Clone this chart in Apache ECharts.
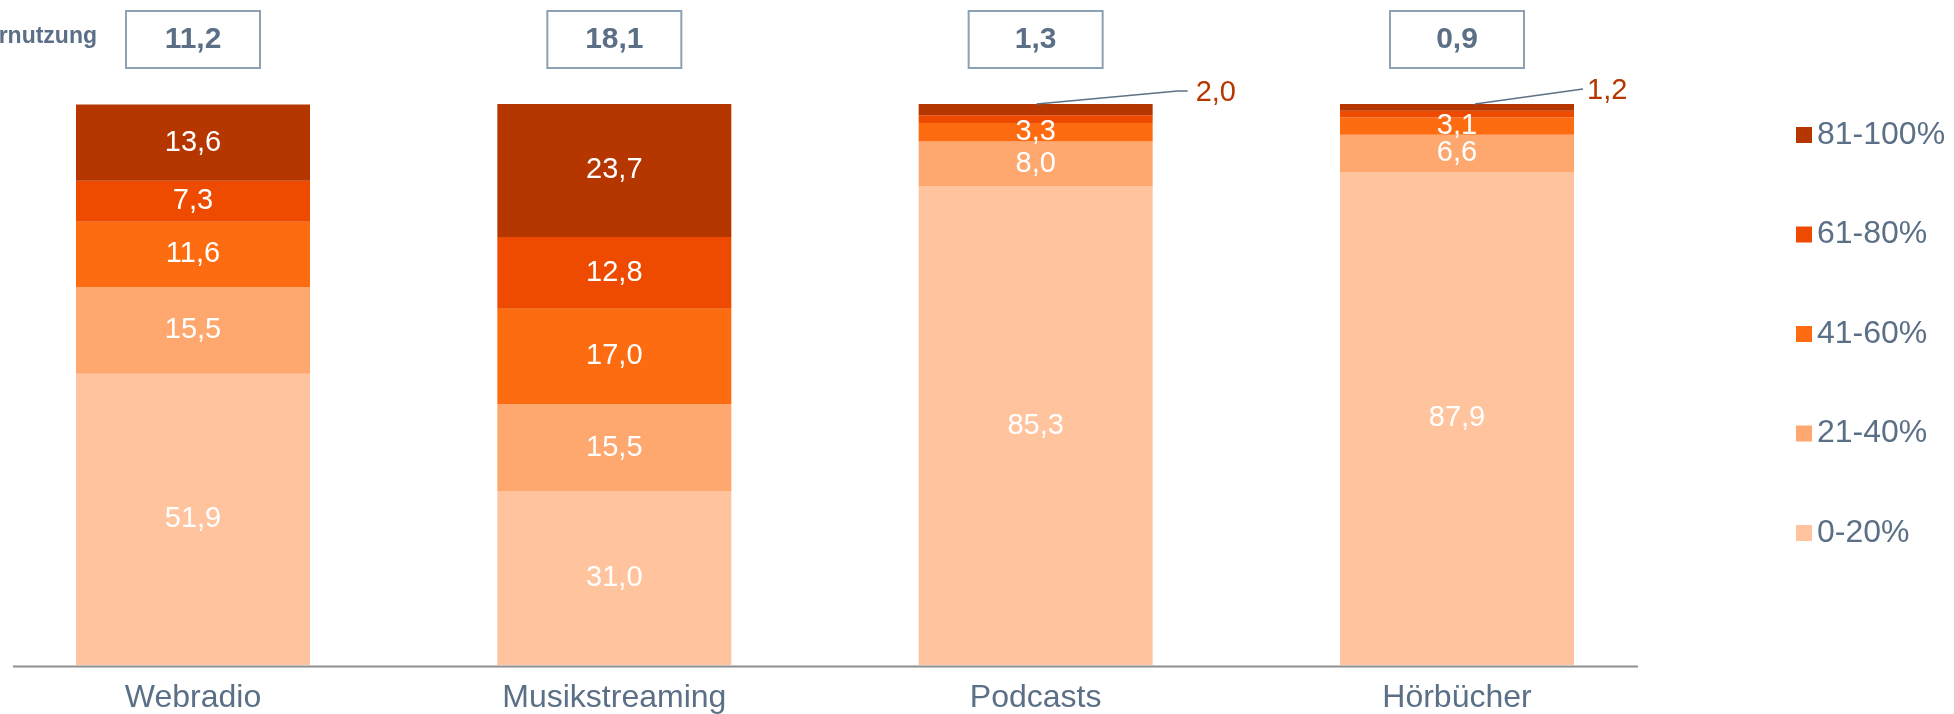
<!DOCTYPE html>
<html>
<head>
<meta charset="utf-8">
<script src="https://cdn.jsdelivr.net/npm/echarts@6/dist/echarts.min.js"></script>
<style>
html,body{margin:0;padding:0;background:#fff;}
#chart{width:1954px;height:714px;}
</style>
</head>
<body>
<div id="chart"></div>
<script>
// ---- data ----
const categories = ['Webradio', 'Musikstreaming', 'Podcasts', 'Hörbücher'];
const usage = [11.2, 18.1, 1.3, 0.9];
const usageTitle = 'Ø Hörnutzung';
const bandNames = ['0-20%', '21-40%', '41-60%', '61-80%', '81-100%'];
const band0to20 = [51.9, 31.0, 85.3, 87.9];
const band21to40 = [15.5, 15.5, 8.0, 6.6];
const band41to60 = [11.6, 17.0, 3.3, 3.1];
const band61to80 = [7.3, 12.8, 1.4, 1.2];
const band81to100 = [13.6, 23.7, 2.0, 1.2];

// ---- styles ----
const bandColors = ['#FFC49E', '#FEA870', '#FE6C12', '#EF4B00', '#B63600'];
const textColor = '#5B6F86';
const FONT = 'Liberation Sans, Arial, sans-serif';
const fmt = v => v.toFixed(1).replace('.', ',');
// leader line geometry per category (pixels relative to bar top centre)
const leaderStyle = {
  2: { start: 1, bend: 142, end: 152, label: 160, rise: 13 },
  3: { start: 18, bend: 126, end: 126, label: 130, rise: 15 }
};

const bands = [band0to20, band21to40, band41to60, band61to80, band81to100];
const totals = categories.map((c, i) => bands.reduce((s, b) => s + b[i], 0));

const barSeries = bands.map((vals, si) => ({
  name: bandNames[si],
  type: 'bar',
  stack: 'total',
  barWidth: 234,
  clip: false,
  itemStyle: { color: bandColors[si] },
  label: {
    show: true,
    position: 'inside',
    color: '#fff',
    fontSize: 29,
    fontFamily: FONT,
    formatter: p => fmt(p.value)
  },
  data: vals.map((v, i) => {
    const hide = (si >= 3 && v < 3);
    return hide ? { value: v, label: { show: false } } : v;
  }),
  z: 2
}));

const outsideData = [];
band81to100.forEach((v, i) => { if (v < 3) outsideData.push([i, totals[i], v]); });

const leaderSeries = {
  name: 'outside',
  type: 'custom',
  coordinateSystem: 'cartesian2d',
  silent: true,
  z: 5,
  data: outsideData,
  renderItem: function (params, api) {
    const idx = api.value(0);
    const top = api.coord([idx, api.value(1)]);
    const st = leaderStyle[idx] || { start: 0, bend: 130, end: 140, label: 148, rise: 14 };
    const x0 = top[0] + st.start, y0 = top[1];
    const y1 = y0 - st.rise;
    return {
      type: 'group',
      children: [
        {
          type: 'polyline',
          shape: { points: [[x0, y0], [top[0] + st.bend, y1], [top[0] + st.end, y1]] },
          style: { stroke: '#5D7185', lineWidth: 1.5, fill: null }
        },
        {
          type: 'text',
          style: {
            x: top[0] + st.label, y: y1 + 2,
            text: fmt(api.value(2)),
            fill: '#B63600',
            fontSize: 29,
            fontFamily: FONT,
            verticalAlign: 'middle',
            align: 'left'
          }
        }
      ]
    };
  }
};

const chart = echarts.init(document.getElementById('chart'), null, { renderer: 'canvas' });
chart.setOption({
  animation: false,
  backgroundColor: '#fff',
  textStyle: { fontFamily: FONT },
  grid: { left: 193, right: 497, top: 104, bottom: 48, containLabel: false },
  legend: {
    orient: 'vertical',
    left: 1796,
    top: 115,
    padding: 0,
    itemWidth: 16,
    itemHeight: 16,
    itemGap: 59.5,
    icon: 'rect',
    data: bandNames.slice().reverse(),
    textStyle: { color: textColor, fontSize: 32, lineHeight: 40, fontFamily: FONT }
  },
  xAxis: [
    {
      type: 'category',
      data: categories,
      boundaryGap: false,
      axisLine: { show: false },
      axisTick: { show: false },
      axisLabel: { color: textColor, fontSize: 32, margin: 17, fontFamily: FONT }
    },
    {
      type: 'category',
      position: 'top',
      data: usage.map(fmt),
      boundaryGap: false,
      axisLine: { show: false },
      axisTick: { show: false },
      axisLabel: {
        color: textColor,
        fontSize: 30,
        fontWeight: 'bold',
        fontFamily: FONT,
        margin: 36,
        width: 134,
        align: 'center',
        lineHeight: 32,
        padding: [13, 0, 12, 0],
        borderColor: '#8DA1B5',
        borderWidth: 2
      }
    }
  ],
  yAxis: { type: 'value', min: 0, max: 100, show: false, splitLine: { show: false } },
  graphic: [
    {
      type: 'line',
      shape: { x1: 13, y1: 666.5, x2: 1638, y2: 666.5 },
      style: { stroke: '#8E8E8E', lineWidth: 2 },
      z: 10
    },
    {
      type: 'text',
      right: 1954 - 97,
      top: 25,
      style: {
        text: usageTitle,
        fill: textColor,
        fontSize: 23,
        fontWeight: 'bold',
        fontFamily: FONT
      }
    }
  ],
  series: barSeries.concat([leaderSeries])
});
</script>
</body>
</html>
